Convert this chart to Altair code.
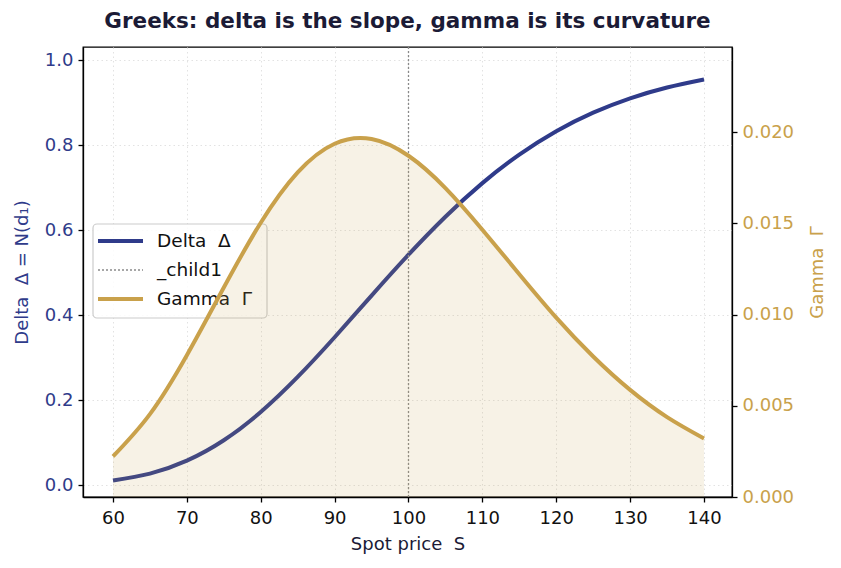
import altair as alt
import pandas as pd

# Call option Greeks sampled across spot prices (strike 100)
spot = [60, 65, 70, 75, 80, 85, 90, 95, 100, 105, 110, 115, 120, 125, 130, 135, 140]
delta = [0.0107, 0.0271, 0.0576, 0.1056, 0.1721, 0.2546, 0.3480, 0.4460, 0.5422,
         0.6316, 0.7107, 0.7778, 0.8329, 0.8766, 0.9103, 0.9358, 0.9547]
gamma = [0.00222, 0.00454, 0.00777, 0.01148, 0.01503, 0.01779, 0.01936, 0.01962, 0.01870,
         0.01693, 0.01465, 0.01221, 0.00983, 0.00770, 0.00587, 0.00438, 0.00321]
strike = [100]

# second space kept as a no-break space so SVG keeps the gap
legend_labels = ["Delta\u00a0 Δ", "_child1", "Gamma\u00a0 Γ"]

NAVY = "#2f3b8a"
GOLD = "#c9a14b"
INK = "#1b1b36"
FONT = "DejaVu Sans"
LW = 4

W, H = 649, 450

df = pd.DataFrame({"S": spot, "delta": delta, "gamma": gamma})
x_scale = alt.Scale(domain=[55.94, 143.79], nice=False, zero=False)
x_enc = alt.X(
    "S:Q", scale=x_scale,
    axis=alt.Axis(title="Spot price\u00a0 S", values=list(range(60, 141, 10)), format="d",
                  grid=True, titleColor=INK, labelPadding=7, titlePadding=8),
)
left_scale = alt.Scale(domain=[-0.028, 1.031], nice=False, zero=False)
right_scale = alt.Scale(domain=[0, 0.02466], nice=False, zero=False)

base = alt.Chart(df)

delta_line = base.mark_line(color=NAVY, strokeWidth=LW, interpolate="natural").encode(
    x=x_enc,
    y=alt.Y("delta:Q", scale=left_scale,
            axis=alt.Axis(title="Delta\u00a0 Δ = N(d₁)", values=[0, 0.2, 0.4, 0.6, 0.8, 1.0],
                          format=".1f", labelColor=NAVY, titleColor=NAVY, grid=True,
                          titlePadding=13)),
)

strike_rule = alt.Chart(pd.DataFrame({"K": strike})).mark_rule(
    color="#8a8a8a", strokeDash=[2, 2], strokeWidth=1.3
).encode(x=alt.X("K:Q", scale=x_scale))

# legend panel
legend_box = alt.Chart(pd.DataFrame({"k": [0]})).mark_rect(
    fill="white", fillOpacity=0.85, stroke="#cccccc", strokeWidth=1.2, cornerRadius=4
).encode(x=alt.value(10), x2=alt.value(184), y=alt.value(177), y2=alt.value(271))

rows_y = [194, 223, 252]
legend_delta = alt.Chart(pd.DataFrame({"k": [0]})).mark_rule(
    color=NAVY, strokeWidth=LW
).encode(x=alt.value(15), x2=alt.value(60), y=alt.value(rows_y[0]))
legend_strike = alt.Chart(pd.DataFrame({"k": [0]})).mark_rule(
    color="#8a8a8a", strokeWidth=1.3, strokeDash=[2, 2]
).encode(x=alt.value(15), x2=alt.value(60), y=alt.value(rows_y[1]))
legend_gamma = alt.Chart(pd.DataFrame({"k": [0]})).mark_rule(
    color=GOLD, strokeWidth=LW
).encode(x=alt.value(15), x2=alt.value(60), y=alt.value(rows_y[2]))
legend_text = alt.Chart(pd.DataFrame({"label": legend_labels, "py": rows_y})).mark_text(
    align="left", baseline="middle", font=FONT, fontSize=18.5, color="#111111"
).encode(x=alt.value(74), y=alt.Y("py:Q", scale=None), text="label:N")

gamma_area = base.mark_area(color=GOLD, opacity=0.14, interpolate="natural").encode(
    x=alt.X("S:Q", scale=x_scale),
    y=alt.Y("gamma:Q", scale=right_scale,
            axis=alt.Axis(title="Gamma\u00a0 Γ", orient="right",
                          values=[0, 0.005, 0.01, 0.015, 0.02], format=".3f",
                          labelColor=GOLD, titleColor=GOLD, grid=False, titlePadding=15,
                          titleAngle=270, titleBaseline="top")),
    y2=alt.datum(0),
)
gamma_line = base.mark_line(color=GOLD, strokeWidth=LW, interpolate="natural").encode(
    x=alt.X("S:Q", scale=x_scale),
    y=alt.Y("gamma:Q", scale=right_scale, axis=None),
)

chart = alt.layer(
    delta_line, strike_rule, legend_box, legend_delta, legend_strike, legend_gamma,
    legend_text, gamma_area, gamma_line,
).resolve_scale(y="independent").properties(
    width=W, height=H,
    background="white",
    autosize=alt.AutoSizeParams(type="none"),
    padding={"left": 83, "top": 47, "right": 109, "bottom": 71},
    title=alt.Title("Greeks: delta is the slope, gamma is its curvature",
                    font=FONT, fontSize=21.5, fontWeight="bold", color=INK,
                    anchor="middle", offset=14),
).configure_view(
    stroke="black", strokeWidth=1.3
).configure_axis(
    labelFont=FONT, titleFont=FONT, labelFontSize=18, titleFontSize=18,
    titleFontWeight="normal", labelColor="#111111",
    domainColor="black", domainWidth=1.3, tickColor="black", tickWidth=1.3, tickSize=5,
    labelPadding=5, gridColor="#e2e2e2", gridDash=[1.5, 3], gridWidth=1,
)

chart.save("out.html", embed_options={"renderer": "svg", "actions": False})
